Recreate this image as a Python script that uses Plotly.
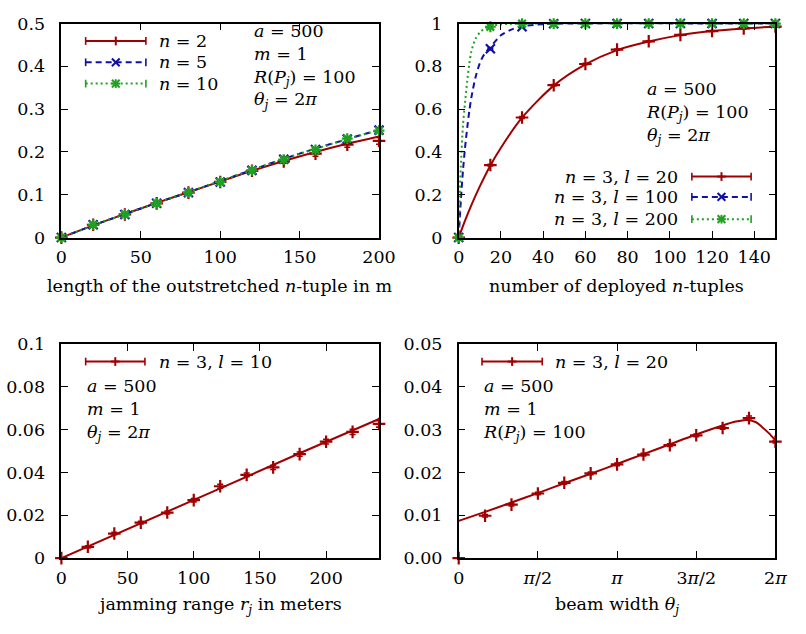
import math
import plotly.graph_objects as go
from plotly.subplots import make_subplots

# ---------------------------------------------------------------- data
# (a) vs. length of the outstretched n-tuple
tl_len = [0, 20, 40, 60, 80, 100, 120, 140, 160, 180, 200]
tl_sim_n2 = [0, 0.030, 0.054, 0.080, 0.105, 0.130, 0.156, 0.178, 0.196, 0.217, 0.226]
tl_err_n2 = [0.001, 0.002, 0.002, 0.002, 0.002, 0.003, 0.003, 0.004, 0.006, 0.006, 0.008]
tl_sim_n5 = [0, 0.030, 0.054, 0.080, 0.105, 0.130, 0.157, 0.183, 0.206, 0.230, 0.251]
tl_err_n5 = [0.001, 0.002, 0.002, 0.002, 0.002, 0.003, 0.003, 0.003, 0.004, 0.004, 0.004]
tl_sim_n10 = [0, 0.030, 0.054, 0.080, 0.105, 0.130, 0.157, 0.182, 0.205, 0.231, 0.250]
tl_err_n10 = [0.001, 0.002, 0.002, 0.002, 0.002, 0.003, 0.003, 0.003, 0.004, 0.004, 0.004]
tl_mod_n2 = [0, 0.0285, 0.055, 0.081, 0.106, 0.131, 0.156, 0.179, 0.200, 0.219, 0.236]
tl_mod_n5 = [0, 0.0285, 0.055, 0.081, 0.106, 0.132, 0.158, 0.184, 0.208, 0.230, 0.252]
tl_mod_n10 = [0, 0.0285, 0.055, 0.081, 0.106, 0.132, 0.158, 0.184, 0.207, 0.230, 0.251]

# (b) vs. number of deployed n-tuples
tr_count = [0, 15, 30, 45, 60, 75, 90, 105, 120, 135, 150]
tr_sim_l20 = [0, 0.339, 0.561, 0.712, 0.811, 0.878, 0.917, 0.947, 0.965, 0.977, 0.986]
tr_sim_l100 = [0, 0.882, 0.985, 0.999, 1, 1, 1, 1, 1, 1, 1]
tr_sim_l200 = [0, 0.985, 1, 1, 1, 1, 1, 1, 1, 1, 1]
tr_err = [0, 0.004, 0.004, 0.003, 0.003, 0.003, 0.002, 0.002, 0.002, 0.002, 0.002]
tr_mod_l20_x = [0, 3, 6, 10, 15, 20, 30, 45, 60, 75, 90, 105, 120, 135, 150]
tr_mod_l20_y = [0, 0.079, 0.152, 0.239, 0.337, 0.420, 0.560, 0.710, 0.809, 0.876, 0.916,
                0.946, 0.965, 0.977, 0.986]
tr_mod_l100_x = [0, 1, 2, 3, 4, 5, 6, 8, 10, 12, 15, 20, 25, 30, 40, 50, 150]
tr_mod_l100_y = [0, 0.17, 0.31, 0.42, 0.51, 0.59, 0.655, 0.75, 0.815, 0.855, 0.89, 0.945,
                 0.972, 0.987, 0.997, 1.0, 1.0]
tr_mod_l200_x = [0, 0.5, 1, 2, 3, 4, 5, 6, 8, 10, 12, 15, 20, 30, 150]
tr_mod_l200_y = [0, 0.20, 0.33, 0.52, 0.63, 0.73, 0.81, 0.87, 0.93, 0.958, 0.975, 0.988,
                 0.996, 1.0, 1.0]

# (c) vs. jamming range
bl_range = [0, 20, 40, 60, 80, 100, 120, 140, 160, 180, 200, 220, 240]
bl_sim = [0, 0.0053, 0.0115, 0.0166, 0.0213, 0.0271, 0.0336, 0.0389, 0.0424, 0.0486,
          0.0544, 0.0590, 0.0627]
bl_err = [0.0002, 0.0005, 0.0006, 0.0006, 0.0007, 0.0008, 0.0009, 0.0009, 0.0010, 0.0010,
          0.0011, 0.0012, 0.0015]
bl_mod_x = [0, 60, 120, 180, 240]
bl_mod_y = [0, 0.0162, 0.0326, 0.0490, 0.0650]

# (d) vs. beam width, in steps of pi/6
br_sixths = [0, 1, 2, 3, 4, 5, 6, 7, 8, 9, 10, 11, 12]
br_sim = [0, 0.0099, 0.0125, 0.0151, 0.0176, 0.0198, 0.0219, 0.0242, 0.0264, 0.0287,
          0.0304, 0.0327, 0.0272]
br_err = [0, 0.0003, 0.0003, 0.0003, 0.0003, 0.0003, 0.0003, 0.0003, 0.0003, 0.0003,
          0.0003, 0.0005, 0.0003]
br_mod_sixths = [0, 1, 2, 3, 4, 5, 6, 7, 8, 9, 10, 10.5, 10.9, 11.25, 11.5, 11.75, 12]
br_mod_y = [0.0087, 0.0108, 0.0130, 0.0152, 0.0175, 0.0197, 0.0220, 0.0243, 0.0266, 0.0289,
            0.0310, 0.0319, 0.0323, 0.0318, 0.0306, 0.0292, 0.0275]

# ---------------------------------------------------------------- style
W, H = 806, 634
FONT = "DejaVu Serif"
FS = 17.5
RED, BLUE, GREEN = "#a00000", "#1010a8", "#20a020"
DASH = {"solid": "solid", "dash": "6px,4px", "dot": "2px,3px"}


def px(x):
    return x / W


def py(y):
    return 1 - y / H


fig = make_subplots(rows=2, cols=2)
fig.update_layout(
    xaxis=dict(domain=[px(57), px(384)]), yaxis=dict(domain=[py(235), py(14)]),
    xaxis2=dict(domain=[px(466), px(792)]), yaxis2=dict(domain=[py(235), py(14)]),
    xaxis3=dict(domain=[px(57), px(384)]), yaxis3=dict(domain=[py(566), py(345)]),
    xaxis4=dict(domain=[px(466), px(792)]), yaxis4=dict(domain=[py(566), py(345)]),
)


def model(x, y, color, dash, row, col, shape="spline"):
    fig.add_trace(go.Scatter(
        x=x, y=y, mode="lines", showlegend=False, hoverinfo="skip",
        line=dict(color=color, width=2, dash=DASH[dash], shape=shape, smoothing=0.8),
    ), row=row, col=col)


def points(x, y, err, color, symbol, row, col):
    fig.add_trace(go.Scatter(
        x=x, y=y, mode="markers", showlegend=False, cliponaxis=False,
        marker=dict(symbol=symbol, size=9, color=color,
                    line=dict(color=color, width=2.2)),
        error_y=dict(type="data", array=err, visible=True, color=color,
                     thickness=1.6, width=3),
    ), row=row, col=col)


# top left
model(tl_len, tl_mod_n2, RED, "solid", 1, 1)
points(tl_len, tl_sim_n2, tl_err_n2, RED, "cross-thin", 1, 1)
model(tl_len, tl_mod_n5, BLUE, "dash", 1, 1)
points(tl_len, tl_sim_n5, tl_err_n5, BLUE, "x-thin", 1, 1)
model(tl_len, tl_mod_n10, GREEN, "dot", 1, 1)
points(tl_len, tl_sim_n10, tl_err_n10, GREEN, "asterisk", 1, 1)

# top right
model(tr_mod_l20_x, tr_mod_l20_y, RED, "solid", 1, 2)
points(tr_count, tr_sim_l20, tr_err, RED, "cross-thin", 1, 2)
model(tr_mod_l100_x, tr_mod_l100_y, BLUE, "dash", 1, 2)
points(tr_count, tr_sim_l100, tr_err, BLUE, "x-thin", 1, 2)
model(tr_mod_l200_x, tr_mod_l200_y, GREEN, "dot", 1, 2)
points(tr_count, tr_sim_l200, tr_err, GREEN, "asterisk", 1, 2)

# bottom left
model(bl_mod_x, bl_mod_y, RED, "solid", 2, 1, shape="linear")
points(bl_range, bl_sim, bl_err, RED, "cross-thin", 2, 1)

# bottom right
br_theta = [k * math.pi / 6 for k in br_sixths]
br_mod_theta = [k * math.pi / 6 for k in br_mod_sixths]
model(br_mod_theta, br_mod_y, RED, "solid", 2, 2)
points(br_theta, br_sim, br_err, RED, "cross-thin", 2, 2)

# ---------------------------------------------------------------- axes
axis_common = dict(
    showline=True, linecolor="black", linewidth=1.5, mirror="allticks",
    ticks="inside", ticklen=7, tickwidth=1.2, tickcolor="black",
    showgrid=False, zeroline=False, tickfont=dict(family=FONT, size=FS, color="black"),
)
fig.update_xaxes(**axis_common, ticklabelstandoff=3)
fig.update_yaxes(**axis_common, ticklabelstandoff=11)

fig.update_xaxes(range=[0, 200], tickvals=[0, 50, 100, 150, 200], row=1, col=1)
fig.update_yaxes(range=[0, 0.5], tickvals=[0, 0.1, 0.2, 0.3, 0.4, 0.5],
                 ticktext=["0", "0.1", "0.2", "0.3", "0.4", "0.5"], row=1, col=1)
fig.update_xaxes(range=[0, 150], tickvals=list(range(0, 141, 20)), row=1, col=2)
fig.update_yaxes(range=[0, 1], tickvals=[0, 0.2, 0.4, 0.6, 0.8, 1],
                 ticktext=["0", "0.2", "0.4", "0.6", "0.8", "1"], row=1, col=2)
fig.update_xaxes(range=[0, 240], tickvals=[0, 50, 100, 150, 200], row=2, col=1)
fig.update_yaxes(range=[0, 0.1], tickvals=[0, 0.02, 0.04, 0.06, 0.08, 0.1],
                 ticktext=["0", "0.02", "0.04", "0.06", "0.08", "0.1"], row=2, col=1)
fig.update_xaxes(range=[0, 2 * math.pi],
                 tickvals=[0, math.pi / 2, math.pi, 3 * math.pi / 2, 2 * math.pi],
                 ticktext=["0", "<i>π</i>/2", "<i>π</i>", "3<i>π</i>/2", "2<i>π</i>"],
                 row=2, col=2)
fig.update_yaxes(range=[0, 0.05], tickvals=[0, 0.01, 0.02, 0.03, 0.04, 0.05],
                 ticktext=["0.00", "0.01", "0.02", "0.03", "0.04", "0.05"], row=2, col=2)

# ---------------------------------------------------------------- keys and labels
shapes = []
annotations = []


def seg(x0, y0, x1, y1, color, dash="solid", width=2):
    shapes.append(dict(type="line", xref="paper", yref="paper",
                       x0=px(x0), y0=py(y0), x1=px(x1), y1=py(y1),
                       line=dict(color=color, width=width, dash=DASH[dash])))


def key_sample(x0, x1, y, color, dash, symbol):
    seg(x0, y, x1, y, color, dash)
    seg(x0, y - 4, x0, y + 4, color, width=1.6)
    seg(x1, y - 4, x1, y + 4, color, width=1.6)
    xc = (x0 + x1) / 2
    if symbol in ("+", "*"):
        seg(xc - 4.5, y, xc + 4.5, y, color)
        seg(xc, y - 4.5, xc, y + 4.5, color)
    if symbol in ("x", "*"):
        seg(xc - 4, y - 4, xc + 4, y + 4, color)
        seg(xc - 4, y + 4, xc + 4, y - 4, color)


def text(x, y, s, anchor="left"):
    annotations.append(dict(xref="paper", yref="paper", x=px(x), y=py(y), text=s,
                            showarrow=False, xanchor=anchor, yanchor="middle",
                            align=anchor if anchor != "center" else "center",
                            font=dict(family=FONT, size=FS, color="black")))


def block(x, y_mid, lines):
    # parameter list drawn as one left-aligned multi-line label
    text(x, y_mid, "<br>".join(lines))


A500 = "<i>a</i> = 500"
M1 = "<i>m</i> = 1"
RPJ = "<i>R</i>(<i>P<sub>j</sub></i>) = 100"
THJ = "<i>θ<sub>j</sub></i> = 2<i>π</i>"

# top left
key_sample(82, 144, 32, RED, "solid", "+")
key_sample(82, 144, 54, BLUE, "dash", "x")
key_sample(82, 144, 76, GREEN, "dot", "*")
text(155, 32, "<i>n</i> = 2")
text(155, 54, "<i>n</i> = 5")
text(155, 76, "<i>n</i> = 10")
block(252, 58, [A500, M1, RPJ, THJ])
text(220, 285, "length of the outstretched <i>n</i>-tuple in m", "center")

# top right
block(657, 106, [A500, RPJ, THJ])
key_sample(706, 767, 172, RED, "solid", "+")
key_sample(706, 767, 193, BLUE, "dash", "x")
key_sample(706, 767, 216, GREEN, "dot", "*")
text(694, 172, "<i>n</i> = 3, <i>l</i> = 20", "right")
text(694, 193, "<i>n</i> = 3, <i>l</i> = 100", "right")
text(694, 216, "<i>n</i> = 3, <i>l</i> = 200", "right")
text(628, 285, "number of deployed <i>n</i>-tuples", "center")

# bottom left
key_sample(82, 143, 363, RED, "solid", "+")
text(155, 363, "<i>n</i> = 3, <i>l</i> = 10")
block(81, 413, [A500, M1, THJ])
text(220, 615, "jamming range <i>r<sub>j</sub></i> in meters", "center")

# bottom right
key_sample(490, 552, 363, RED, "solid", "+")
text(563, 363, "<i>n</i> = 3, <i>l</i> = 20")
block(489, 413, [A500, M1, RPJ])
text(629, 615, "beam width <i>θ<sub>j</sub></i>", "center")

fig.update_layout(
    width=W, height=H, margin=dict(l=0, r=0, t=0, b=0),
    paper_bgcolor="white", plot_bgcolor="white", showlegend=False,
    font=dict(family=FONT, size=FS, color="black"),
    shapes=shapes, annotations=annotations,
)

fig.write_html("out.html")
